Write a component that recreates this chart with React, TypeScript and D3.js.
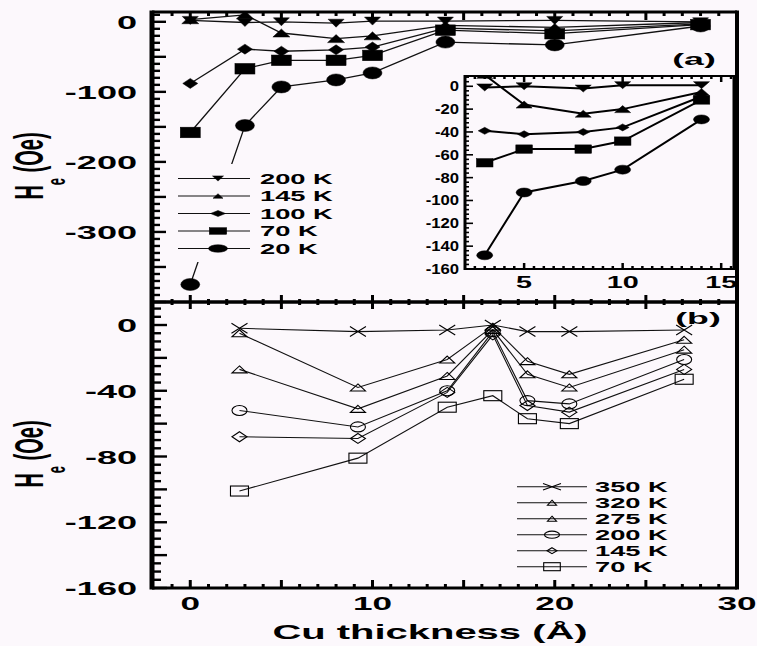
import React from 'react';
import * as d3 from 'd3';

// Panel (a): exchange field vs Cu thickness, filled symbols
const topThickness = [0, 3, 5, 8, 10, 14, 20, 28];
const top200K = [2, -1, 0, -2, 1, 1, 2, 0];
const top145K = [3, 10, -16, -24, -20, -5, -8, -1];
const top100K = [-88, -39, -42, -40, -36, -9, -13, -3];
const top70K = [-158, -67, -55, -55, -48, -12, -17, -4];
const top20K = [-375, -148, -93, -83, -73, -29, -33, -6];
const topLabels = ['200 K', '145 K', '100 K', '70 K', '20 K'];

// Panel (b): open symbols
const botThickness = [2.7, 9.2, 14.1, 16.6, 18.5, 20.8, 27.1];
const bot350K = [-2, -4, -3, 0, -4, -4, -3];
const bot320K = [-5, -38, -21, -1, -22, -30, -9];
const bot275K = [-27, -51, -31, -3, -30, -38, -15];
const bot200K = [-52, -62, -40, -4, -46, -48, -21];
const bot145K = [-68, -69, -41, -6, -49, -53, -27];
const bot70K = [-101, -81, -50, -43, -57, -60, -33];
const botLabels = ['350 K', '320 K', '275 K', '200 K', '145 K', '70 K'];

const xTickLabels = [0, 10, 20, 30];
const topYTickLabels = [0, -100, -200, -300];
const botYTickLabels = [0, -40, -80, -120, -160];
const insetXTickLabels = [5, 10, 15];
const insetYTickLabels = [0, -20, -40, -60, -80, -100, -120, -140, -160];

type Shape = 'triDown' | 'triUp' | 'diamond' | 'square' | 'circle' | 'times';

const W = 757;
const H = 646;
const BG = '#fcf8fc';
const FONT = '"Liberation Sans", Arial, Helvetica, sans-serif';

const F = { left: 152, right: 737, top: 12, mid: 302, bottom: 588 };
const IN = { left: 465, right: 734, top: 76, bottom: 269 };

const x = d3.scaleLinear().domain([-2.1, 30]).range([F.left, F.right]);
const yTop = d3.scaleLinear().domain([-400, 14]).range([F.mid, F.top]);
const yBot = d3.scaleLinear().domain([-160, 14]).range([F.bottom, F.mid]);
const xIn = d3.scaleLinear().domain([2, 15.65]).range([IN.left, IN.right]);
const yIn = d3.scaleLinear().domain([-160, 9]).range([IN.bottom, IN.top]);

function markerPath(shape: Shape, cx: number, cy: number, w: number, h: number) {
  switch (shape) {
    case 'triUp':
      return `M${cx},${cy - h}L${cx + w},${cy + h}L${cx - w},${cy + h}Z`;
    case 'triDown':
      return `M${cx},${cy + h}L${cx + w},${cy - h}L${cx - w},${cy - h}Z`;
    case 'diamond':
      return `M${cx},${cy - h}L${cx + w},${cy}L${cx},${cy + h}L${cx - w},${cy}Z`;
    case 'times':
      return `M${cx - w},${cy - h}L${cx + w},${cy + h}M${cx + w},${cy - h}L${cx - w},${cy + h}`;
    default:
      return '';
  }
}

const Marker = ({ shape, cx, cy, w, h, filled, sw }: {
  shape: Shape; cx: number; cy: number; w: number; h: number; filled: boolean; sw: number;
}) => {
  const fill = filled ? '#000' : 'none';
  if (shape === 'circle') {
    return <ellipse cx={cx} cy={cy} rx={w} ry={h} fill={fill} stroke="#000" strokeWidth={sw} />;
  }
  if (shape === 'square') {
    return <rect x={cx - w} y={cy - h} width={2 * w} height={2 * h} fill={fill} stroke="#000" strokeWidth={sw} />;
  }
  return <path d={markerPath(shape, cx, cy, w, h)} fill={fill} stroke="#000" strokeWidth={sw} />;
};

// stretched bold text (the figure is squashed vertically)
const SText = ({ x0, y0, sx, size, anchor = 'middle', children }: {
  x0: number; y0: number; sx: number; size: number; anchor?: string; children: React.ReactNode;
}) => (
  <text
    transform={`translate(${x0},${y0}) scale(${sx},1)`}
    textAnchor={anchor}
    fontFamily={FONT}
    fontWeight="bold"
    fontSize={size}
    fill="#000"
  >
    {children}
  </text>
);

const topSeries = [
  { label: topLabels[0], values: top200K, shape: 'triDown' as Shape, size: [8, 4], leg: [5.5, 2.6] },
  { label: topLabels[1], values: top145K, shape: 'triUp' as Shape, size: [8.5, 4], leg: [5, 2.3] },
  { label: topLabels[2], values: top100K, shape: 'diamond' as Shape, size: [7.5, 5], leg: [7.5, 3] },
  { label: topLabels[3], values: top70K, shape: 'square' as Shape, size: [10, 5.3], leg: [8.7, 3.3] },
  { label: topLabels[4], values: top20K, shape: 'circle' as Shape, size: [9.5, 6], leg: [9.5, 3.8] },
];
const insetSize: Record<string, number[]> = {
  triDown: [8, 3.5], triUp: [8, 3.5], diamond: [6.5, 3.5], square: [8.3, 4.2], circle: [8, 4.5],
};

const botSeries = [
  { label: botLabels[0], values: bot350K, shape: 'times' as Shape, size: [8, 5], leg: [9, 3.3] },
  { label: botLabels[1], values: bot320K, shape: 'triUp' as Shape, size: [7.5, 3.5], leg: [4.5, 2.5] },
  { label: botLabels[2], values: bot275K, shape: 'triUp' as Shape, size: [7.5, 3.5], leg: [4.5, 2.5] },
  { label: botLabels[3], values: bot200K, shape: 'circle' as Shape, size: [7.5, 5], leg: [7.5, 3.6] },
  { label: botLabels[4], values: bot145K, shape: 'diamond' as Shape, size: [7.5, 5], leg: [5, 3] },
  { label: botLabels[5], values: bot70K, shape: 'square' as Shape, size: [9, 5], leg: [8.3, 4] },
];

export default function App() {
  const lineTop = d3.line<[number, number]>().x(d => x(d[0])).y(d => yTop(d[1]));
  const lineIn = d3.line<[number, number]>().x(d => xIn(d[0])).y(d => yIn(d[1]));
  const lineBot = d3.line<[number, number]>().x(d => x(d[0])).y(d => yBot(d[1]));

  const xMinor = d3.range(-1, 31, 1);
  const topYMinor = d3.range(-400, 14, 10);
  const botYMinor = d3.range(-160, 14, 5);
  const inXMinor = d3.range(2.5, 15.6, 0.5);
  const inYMinor = d3.range(-160, 9, 4);

  const insetPts = topThickness
    .map((t, i) => ({ t, i }))
    .filter(d => d.t >= 2 && d.t <= 15.6);

  return (
    <svg width={W} height={H} style={{ position: 'absolute', left: 0, top: 0, display: 'block' }}>
      <defs>
        <clipPath id="clip-top">
          <rect x={F.left} y={F.top} width={F.right - F.left} height={F.mid - F.top} />
        </clipPath>
        <clipPath id="clip-in">
          <rect x={IN.left} y={IN.top} width={IN.right - IN.left} height={IN.bottom - IN.top} />
        </clipPath>
      </defs>
      <rect x={0} y={0} width={W} height={H} fill={BG} />

      {/* panel (a) data */}
      <g clipPath="url(#clip-top)">
        {topSeries.map(s => (
          <path
            key={s.label}
            d={lineTop(topThickness.map((t, i) => [t, s.values[i]] as [number, number])) || ''}
            fill="none"
            stroke="#111"
            strokeWidth={1.3}
          />
        ))}
        {topSeries.map(s =>
          topThickness.map((t, i) => (
            <Marker key={s.label + i} shape={s.shape} cx={x(t)} cy={yTop(s.values[i])}
              w={s.size[0]} h={s.size[1]} filled sw={0.5} />
          ))
        )}
      </g>

      {/* panel (a) legend */}
      <rect x={172} y={164} width={163} height={98} fill={BG} />
      {topSeries.map((s, i) => {
        const cy = 178.5 + i * 17.5;
        return (
          <g key={'lg' + s.label}>
            <line x1={178} x2={250} y1={cy} y2={cy} stroke="#111" strokeWidth={1.2} />
            <Marker shape={s.shape} cx={218} cy={cy} w={s.leg[0]} h={s.leg[1]} filled sw={0.5} />
            <SText x0={260} y0={cy + 5} sx={1.95} size={14} anchor="start">{s.label}</SText>
          </g>
        );
      })}

      {/* inset */}
      <rect x={IN.left} y={IN.top} width={IN.right - IN.left} height={IN.bottom - IN.top} fill={BG} />
      <g clipPath="url(#clip-in)">
        {topSeries.map(s => (
          <path
            key={'in' + s.label}
            d={lineIn(insetPts.map(p => [p.t, s.values[p.i]] as [number, number])) || ''}
            fill="none"
            stroke="#000"
            strokeWidth={2}
          />
        ))}
        {topSeries.map(s =>
          insetPts.map(p => (
            <Marker key={'inm' + s.label + p.i} shape={s.shape} cx={xIn(p.t)} cy={yIn(s.values[p.i])}
              w={insetSize[s.shape][0]} h={insetSize[s.shape][1]} filled sw={0.5} />
          ))
        )}
      </g>
      <g stroke="#000">
        {inXMinor.map(v => {
          const major = v % 5 === 0;
          const len = major ? 6 : 3;
          return (
            <g key={'ixt' + v}>
              <line x1={xIn(v)} x2={xIn(v)} y1={IN.bottom} y2={IN.bottom - len} strokeWidth={2.5} />
              <line x1={xIn(v)} x2={xIn(v)} y1={IN.top} y2={IN.top + len} strokeWidth={2.5} />
            </g>
          );
        })}
        {inYMinor.map(v => (
          <line key={'iyt' + v} x1={IN.left} x2={IN.left + (v % 20 === 0 ? 8 : 4)}
            y1={yIn(v)} y2={yIn(v)} strokeWidth={1.6} />
        ))}
        <line x1={IN.left} x2={IN.right} y1={IN.top} y2={IN.top} strokeWidth={2} />
        <line x1={IN.left} x2={IN.right} y1={IN.bottom} y2={IN.bottom} strokeWidth={2} />
        <line x1={IN.left} x2={IN.left} y1={IN.top - 1} y2={IN.bottom + 1} strokeWidth={3} />
        <line x1={IN.right} x2={IN.right} y1={IN.top - 1} y2={IN.bottom + 1} strokeWidth={3} />
      </g>
      {insetYTickLabels.map(v => (
        <SText key={'iyl' + v} x0={459} y0={yIn(v) + 5} sx={1.15} size={14.5} anchor="end">{v}</SText>
      ))}
      {insetXTickLabels.map(v => (
        <SText key={'ixl' + v} x0={xIn(v)} y0={288} sx={1.8} size={16}>{v}</SText>
      ))}

      {/* panel (b) data */}
      {botSeries.map(s => (
        <path
          key={'b' + s.label}
          d={lineBot(botThickness.map((t, i) => [t, s.values[i]] as [number, number])) || ''}
          fill="none"
          stroke="#111"
          strokeWidth={1.1}
        />
      ))}
      {botSeries.map(s =>
        botThickness.map((t, i) => (
          <Marker key={'bm' + s.label + i} shape={s.shape} cx={x(t)} cy={yBot(s.values[i])}
            w={s.size[0]} h={s.size[1]} filled={false} sw={1.1} />
        ))
      )}

      {/* panel (b) legend */}
      {botSeries.map((s, i) => {
        const cy = 486.7 + i * 16;
        return (
          <g key={'blg' + s.label}>
            <line x1={517} x2={587} y1={cy} y2={cy} stroke="#111" strokeWidth={1.1} />
            <Marker shape={s.shape} cx={552} cy={cy} w={s.leg[0]} h={s.leg[1]} filled={false} sw={1.1} />
            <SText x0={595} y0={cy + 5} sx={1.95} size={14} anchor="start">{s.label}</SText>
          </g>
        );
      })}

      {/* frame and ticks */}
      <g stroke="#000">
        {xMinor.map(v => {
          const major = v % 5 === 0;
          const xx = x(v);
          return (
            <g key={'xt' + v}>
              <line x1={xx} x2={xx} y1={F.top} y2={F.top + (major ? 8 : 4)} strokeWidth={3} />
              <line x1={xx} x2={xx} y1={F.mid - (major ? 7 : 3)} y2={F.mid + (major ? 7 : 3)} strokeWidth={3} />
              <line x1={xx} x2={xx} y1={F.bottom} y2={F.bottom - (major ? 8 : 4)} strokeWidth={3} />
            </g>
          );
        })}
        {topYMinor.map(v => (
          <line key={'tyt' + v} x1={F.left} x2={F.left + (v % 50 === 0 ? 14 : 8)}
            y1={yTop(v)} y2={yTop(v)} strokeWidth={2.4} />
        ))}
        {botYMinor.map(v => (
          <line key={'byt' + v} x1={F.left} x2={F.left + (v % 20 === 0 ? 15 : 9)}
            y1={yBot(v)} y2={yBot(v)} strokeWidth={2.4} />
        ))}
        <line x1={F.left} x2={F.right} y1={F.top} y2={F.top} strokeWidth={3} />
        <line x1={F.left} x2={F.right} y1={F.mid} y2={F.mid} strokeWidth={3.5} />
        <line x1={F.left} x2={F.right} y1={F.bottom} y2={F.bottom} strokeWidth={3} />
        <line x1={F.left} x2={F.left} y1={F.top - 1.5} y2={F.bottom + 1.5} strokeWidth={5} />
        <line x1={F.right} x2={F.right} y1={F.top - 1.5} y2={F.bottom + 1.5} strokeWidth={4} />
      </g>

      {/* axis labels */}
      {topYTickLabels.map(v => (
        <SText key={'tyl' + v} x0={137} y0={yTop(v) + 7} sx={1.95} size={18.5} anchor="end">{v}</SText>
      ))}
      {botYTickLabels.map(v => (
        <SText key={'byl' + v} x0={137} y0={yBot(v) + 7} sx={1.95} size={18.5} anchor="end">{v}</SText>
      ))}
      {xTickLabels.map(v => (
        <SText key={'xl' + v} x0={x(v)} y0={610} sx={1.9} size={18.5}>{v}</SText>
      ))}
      <SText x0={430} y0={639} sx={1.95} size={20.5}>Cu thickness (Å)</SText>
      <SText x0={694} y0={65} sx={2.1} size={17}>(a)</SText>
      <SText x0={698} y0={324} sx={2.1} size={17}>(b)</SText>

      {[166, 454].map(cy => (
        <text
          key={'yt' + cy}
          transform={`translate(43,${cy}) scale(2,1) rotate(-90)`}
          textAnchor="middle"
          fontFamily={FONT}
          fontWeight="bold"
          fontSize={20}
          fill="#000"
        >
          <tspan>H</tspan>
          <tspan dy={11} fontSize={13}>e</tspan>
          <tspan dy={-11}> (Oe)</tspan>
        </text>
      ))}
    </svg>
  );
}
